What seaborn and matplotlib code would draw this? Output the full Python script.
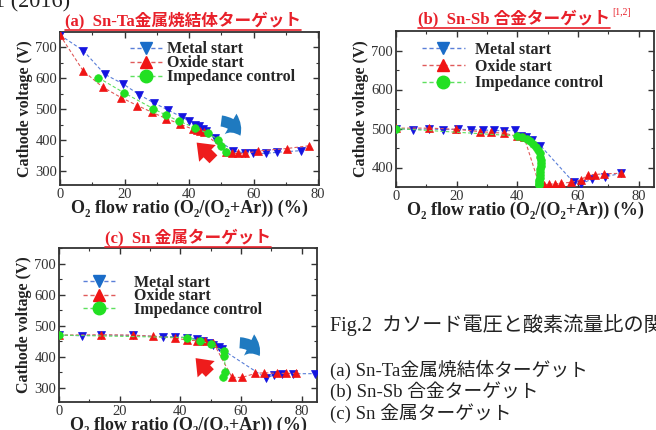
import numpy as np
import pandas as pd
import matplotlib
matplotlib.use("Agg")
import matplotlib.pyplot as plt
import seaborn as sns
from matplotlib.lines import Line2D
from matplotlib.patches import FancyArrowPatch
from matplotlib.ticker import MultipleLocator

# ---------------- data ----------------
series_names = ["Metal start", "Oxide start", "Impedance control"]

# (a) Sn-Ta sintered target
a_metal_x = [0, 7.2, 13.9, 19.4, 24.6, 29.2, 33.6, 37.7, 40.1, 41.8, 43.2, 44.2, 45.3, 48.1, 53.7, 57.4, 59.9, 63.8, 67.4, 74.6]
a_metal_y = [740, 690, 613, 583, 547, 520, 497, 475, 462, 450, 445, 437, 430, 408, 365, 359, 358, 357, 361, 366]
a_oxide_x = [0, 7.2, 13.2, 18.9, 24.0, 28.6, 32.9, 37.2, 41.3, 42.4, 43.4, 44.5, 51.4, 53.2, 55.3, 57.3, 61.5, 70.3, 77.3]
a_oxide_y = [740, 624, 572, 538, 512, 490, 470, 452, 435, 432, 429, 426, 362, 357, 357, 357, 365, 373, 382]
a_imp_x = [11.9, 19.9, 28.9, 32.9, 37.0, 41.9, 45.8, 49.1, 50.0, 51.5]
a_imp_y = [602, 553, 502, 481, 461, 440, 422, 402, 382, 362]

# (b) Sn-Sb alloy target
b_metal_x = [0, 5.7, 10.9, 15.5, 20.3, 24.7, 28.6, 32.4, 35.6, 39.2, 41.1, 42.7, 44.7, 47.6, 58.5, 61.0, 64.7, 68.8, 74.1]
b_metal_y = [500, 497, 499, 497, 498, 497, 496, 495, 494, 495, 482, 478, 471, 456, 362, 358, 371, 376, 385]
b_oxide_x = [0, 10.9, 19.8, 27.7, 31.3, 35.6, 40.0, 42.2, 47.2, 48.8, 50.5, 52.3, 54.5, 57.7, 61.0, 63.2, 65.6, 68.6, 74.1]
b_oxide_y = [501, 501, 498, 492, 490, 488, 480, 478, 356, 356, 357, 358, 360, 362, 368, 382, 382, 384, 385]
b_imp_x = [0, 39.8, 41.5, 43.0, 44.3, 45.3, 46.2, 46.8, 47.3, 47.6, 47.8, 47.8, 47.7, 47.6, 47.5, 47.4, 47.3, 47.2, 47.1, 47.0, 47.0]
b_imp_y = [500, 481, 478, 474, 468, 461, 452, 444, 436, 428, 420, 412, 404, 396, 388, 380, 373, 367, 362, 358, 355]

# (c) Sn metal target
c_metal_x = [0, 7.5, 13.8, 24.5, 34.4, 38.3, 42.1, 45.4, 47.6, 49.3, 50.9, 52.6, 53.7, 68.3, 70.7, 73.5, 77.1, 84.5]
c_metal_y = [470, 468, 470, 469, 465, 465, 462, 458, 451, 444, 437, 431, 424, 331, 342, 346, 346, 346]
c_oxide_x = [0, 14.0, 24.5, 31.1, 38.3, 42.1, 45.4, 48.1, 50.9, 57.0, 60.3, 64.7, 67.7, 71.8, 74.9, 78.2]
c_oxide_y = [470, 471, 470, 466, 461, 454, 452, 450, 445, 334, 334, 347, 349, 347, 347, 347]
c_imp_x = [0, 42.1, 46.5, 50.0, 54.2, 54.5, 54.8, 54.0]
c_imp_y = [470, 462, 451, 441, 419, 402, 352, 334]

panel_titles = ["(a)  Sn-Ta金属焼結体ターゲット", "(b)  Sn-Sb 合金ターゲット", "(c)  Sn 金属ターゲット"]
title_sup_b = "[1,2]"
xlabel = "O₂ flow ratio (O₂/(O₂+Ar)) (%)"
ylabel = "Cathode voltage (V)"
caption = "Fig.2  カソード電圧と酸素流量比の関係"
caption_items = ["(a) Sn-Ta金属焼結体ターゲット", "(b) Sn-Sb 合金ターゲット", "(c) Sn 金属ターゲット"]
top_fragment = "1 (2016)"

# ---------------- style ----------------
sns.set_theme(style="ticks")
plt.rcParams["font.family"] = ["Liberation Serif", "DejaVu Serif", "Noto Sans CJK JP"]
MIXED = ["Liberation Serif", "Noto Sans CJK JP"]

marker_cols = {"Metal start": "#1414e0", "Oxide start": "#f01414", "Impedance control": "#22e022"}
legend_cols = {"Metal start": "#1a6cc8", "Oxide start": "#f01414", "Impedance control": "#22e022"}
line_cols = {"Metal start": "#5a7fd8", "Oxide start": "#e05a5a", "Impedance control": "#5ee05e"}
markers = {"Metal start": "v", "Oxide start": "^", "Impedance control": "o"}

fig = plt.figure(figsize=(6.56, 4.30), dpi=100)
fig.patch.set_facecolor("white")

W, H = 656.0, 430.0
def ax_at(l, t, r, b):
    return fig.add_axes([l / W, 1 - b / H, (r - l) / W, (b - t) / H])

ax_a = ax_at(60, 32, 319, 185)
ax_b = ax_at(396, 31, 654, 187)
ax_c = ax_at(59, 248, 317, 402)

panels = [
    (ax_a, [(a_metal_x, a_metal_y), (a_oxide_x, a_oxide_y), (a_imp_x, a_imp_y)], (0, 80.3), (255, 750), [300, 400, 500, 600, 700]),
    (ax_b, [(b_metal_x, b_metal_y), (b_oxide_x, b_oxide_y), (b_imp_x, b_imp_y)], (0, 85), (350, 750), [400, 500, 600, 700]),
    (ax_c, [(c_metal_x, c_metal_y), (c_oxide_x, c_oxide_y), (c_imp_x, c_imp_y)], (0, 85), (255, 750), [300, 400, 500, 600, 700]),
]

for ax, series, xl, yl, yt in panels:
    for name, (xs, ys) in zip(series_names, series):
        df = pd.DataFrame({"x": xs, "y": ys})
        sns.lineplot(data=df, x="x", y="y", ax=ax, sort=False, estimator=None,
                     color=line_cols[name], linestyle=(0, (3, 2)), linewidth=0.8,
                     marker=markers[name], markersize=6 if name != "Impedance control" else 5.5,
                     markerfacecolor=marker_cols[name], markeredgecolor=marker_cols[name],
                     markeredgewidth=0.5, zorder=3)
    ax.set_xlim(*xl)
    ax.set_ylim(*yl)
    ax.set_xticks([0, 20, 40, 60, 80])
    ax.set_yticks(yt)
    ax.xaxis.set_minor_locator(MultipleLocator(10))
    ax.yaxis.set_minor_locator(MultipleLocator(50))
    ax.tick_params(which="both", direction="in", top=True, right=True, color="#333333",
                   labelsize=10.5, labelcolor="#333333", pad=2)
    ax.tick_params(which="major", length=4, width=1)
    ax.tick_params(which="minor", length=2.5, width=0.8)
    for sp in ax.spines.values():
        sp.set_color("#333333")
        sp.set_linewidth(1.3)
    ax.set_xlabel(xlabel, fontsize=13, fontweight="bold", color="#222222", labelpad=-1,
                  family=["Liberation Serif", "DejaVu Serif"])
    ax.set_ylabel(ylabel, fontsize=11.5, fontweight="bold", color="#222222", labelpad=2)
    ax.set_facecolor("white")
    ax.grid(False)

# legends
def legend_handles():
    hs = []
    for name in series_names:
        hs.append(Line2D([], [], color=line_cols[name], linestyle=(0, (3, 2)), linewidth=1,
                         marker=markers[name], markersize=9,
                         markerfacecolor=legend_cols[name], markeredgecolor=legend_cols[name]))
    return hs

# (axes, anchor, labelspacing, handlelength, handletextpad)
leg_specs = [
    (ax_a, (0.27, 0.94), -0.12, 2.0, 0.35),
    (ax_b, (0.10, 0.93), 0.04, 2.7, 0.6),
    (ax_c, (0.093, 0.825), -0.16, 2.0, 1.2),
]
for ax, anchor, spacing, hl, hp in leg_specs:
    ax.legend(legend_handles(), series_names, loc="upper left", bbox_to_anchor=anchor,
              frameon=False, handlelength=hl, handletextpad=hp, labelspacing=spacing,
              prop={"family": "Liberation Serif", "weight": "bold", "size": 11.5},
              borderaxespad=0, borderpad=0, numpoints=1)

# arrows (annotations, axes fractions)
def fat_arrow(ax, tail, head, color, rad):
    arr = FancyArrowPatch(tail, head, transform=ax.transAxes,
                          arrowstyle="simple,head_width=0.85,head_length=0.55,tail_width=0.4",
                          connectionstyle=f"arc3,rad={rad}", mutation_scale=20,
                          color=color, lw=0, zorder=5)
    ax.add_patch(arr)

fat_arrow(ax_a, (0.612, 0.420), (0.700, 0.305), "#1f7ac0", -0.35)
fat_arrow(ax_a, (0.600, 0.155), (0.520, 0.290), "#ee1c1c", 0.0)
fat_arrow(ax_c, (0.690, 0.385), (0.782, 0.282), "#1f7ac0", -0.35)
fat_arrow(ax_c, (0.592, 0.175), (0.522, 0.298), "#ee1c1c", 0.0)

# titles with underline
RED = "#e8202a"
title_specs = [(65, 20), (418, 18), (105, 237)]
title_objs = []
for (x0, yc), txt in zip(title_specs, panel_titles):
    t = fig.text(x0 / W, 1 - yc / H, txt, ha="left", va="center", color=RED,
                 fontsize=12, fontweight="bold", family=MIXED)
    title_objs.append(t)

fig.canvas.draw()
rend = fig.canvas.get_renderer()
for i, t in enumerate(title_objs):
    bb = t.get_window_extent(rend)
    yline = bb.y0 - 1.0
    fig.add_artist(Line2D([bb.x0 / W, bb.x1 / W], [yline / H, yline / H],
                          transform=fig.transFigure, color=RED, linewidth=1.2))
    if i == 1:
        fig.text((bb.x1 + 2) / W, (bb.y1 - 3) / H, title_sup_b, ha="left", va="center",
                 color=RED, fontsize=7, family=MIXED)

# caption on the right
fig.text(330 / W, 1 - 325 / H, caption, ha="left", va="center", fontsize=14.5,
         color="#222222", family=MIXED)
for yc, txt in zip([370, 391, 413], caption_items):
    fig.text(330 / W, 1 - yc / H, txt, ha="left", va="center", fontsize=13.5,
             color="#222222", family=MIXED)

# fragment of the preceding line at the very top
fig.text(-6 / W, 1 - 7 / H, top_fragment, ha="left", va="baseline", fontsize=16,
         color="#222222", family=["Liberation Serif"])

fig.savefig("out.png", dpi=100, facecolor="white")
